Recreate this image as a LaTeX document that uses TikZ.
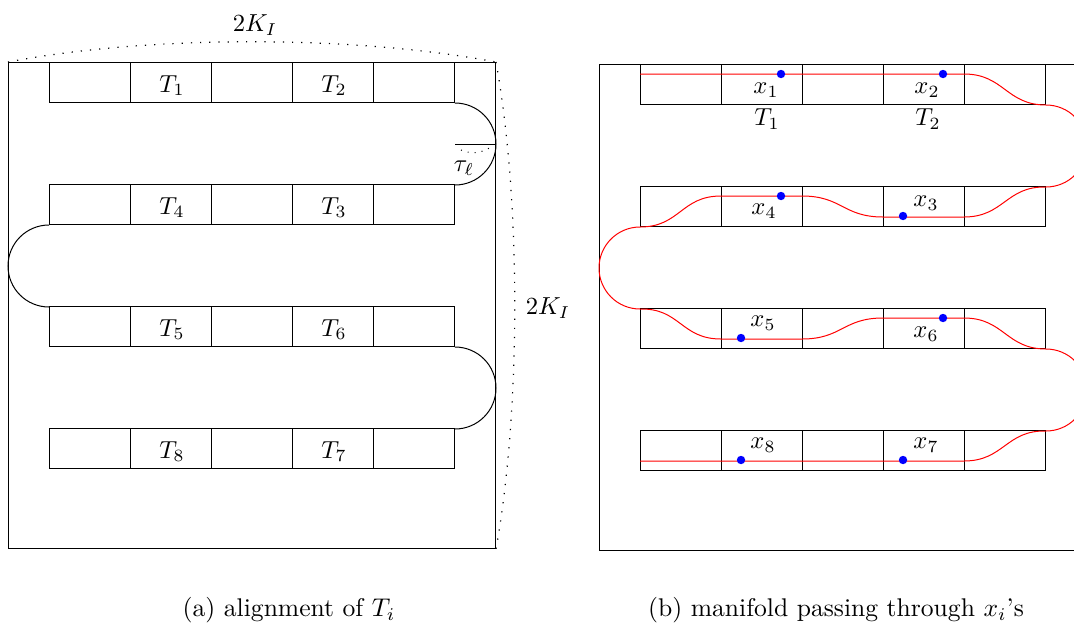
\documentclass[tikz,border=0pt]{standalone}
\usetikzlibrary{calc}
\begin{document}
\begin{tikzpicture}[x=0.5pt,y=-0.5pt,
  cell/.style={draw, minimum width=40.5pt, minimum height=20pt, inner sep=0pt, anchor=north west, line width=0.5pt},
  framebox/.style={draw, minimum width=243.5pt, minimum height=243pt, inner sep=0pt, anchor=north west, line width=0.5pt},
  lab/.style={inner sep=0pt, scale=1.23},
  dotm/.style={circle, fill=blue, inner sep=0pt, minimum size=4.2pt},
  redpath/.style={red, line width=0.5pt},
  dottedarc/.style={line width=0.6pt, dash pattern=on 0.6pt off 4pt},
  turn/.style={line width=0.5pt},
  caption/.style={inner sep=0pt, scale=1.28}]
\useasboundingbox (0,0) rectangle (1074,627);

% ---------------- left panel ----------------
\node[framebox] (LF) at (8,62) {};
\foreach \r/\y in {1/62,2/184,3/306,4/428}
  \foreach \c in {1,...,5}
    \node[cell] (a\r\c) at ({49+81*(\c-1)},\y) {};
\node[lab] (T1) at ($(a12)+(1,3)$) {$T_1$};
\node[lab] (T2) at ($(a14)+(1,3)$) {$T_2$};
\node[lab] (T4) at ($(a22)+(1,3)$) {$T_4$};
\node[lab] (T3) at ($(a24)+(1,3)$) {$T_3$};
\node[lab] (T5) at ($(a32)+(1,3)$) {$T_5$};
\node[lab] (T6) at ($(a34)+(1,3)$) {$T_6$};
\node[lab] (T8) at ($(a42)+(1,3)$) {$T_8$};
\node[lab] (T7) at ($(a44)+(1,3)$) {$T_7$};

\draw[turn] (a15.south east) arc[start angle=-90, end angle=90, radius=41];
\draw[turn] (a21.south west) arc[start angle=-90, end angle=-270, radius=41];
\draw[turn] (a35.south east) arc[start angle=-90, end angle=90, radius=41];

% angle tau_l
\coordinate (ctr) at ($(a15.south east)+(0,41)$);
\draw[turn] (ctr) -- (ctr -| LF.east);
\draw[dottedarc, line width=0.5pt, dash pattern=on 0.5pt off 3pt] (461,150) .. controls (470,154) and (482,154) .. (492,146);
\node[lab] (tau) at (464,168) {$\tau_\ell$};

% 2K_I arcs
\draw[dottedarc] (LF.north west) .. controls (150,35) and (353,35) .. (LF.north east);
\node[lab] (KI1) at (255,25) {$2K_I$};
\draw[dottedarc] (LF.north east) .. controls (521,200) and (521,410) .. (LF.south east);
\node[lab] (KI2) at (548,308) {$2K_I$};

\node[caption] (capa) at (289,610) {(a) alignment of $T_i$};

% ---------------- right panel ----------------
\node[framebox] (RF) at (599,64) {};
\foreach \r/\y in {1/64,2/186,3/308,4/430}
  \foreach \c in {1,...,5}
    \node[cell] (b\r\c) at ({640+81*(\c-1)},\y) {};

\draw[redpath]
  ($(b11.north west)+(0,10)$) -- ($(b15.north west)+(0,10)$)
  .. controls ($(b15.north west)+(40,10)$) and ($(b15.south east)+(-40,0)$) .. (b15.south east)
  arc[start angle=-90, end angle=90, radius=41]
  .. controls ($(b25.north east)+(-40,0)$) and ($(b25.south west)+(40,-10)$) .. ($(b25.south west)+(0,-10)$)
  -- ($(b24.south west)+(0,-10)$)
  .. controls ($(b24.south west)+(-40,-10)$) and ($(b23.north west)+(40,10)$) .. ($(b23.north west)+(0,10)$)
  -- ($(b22.north west)+(0,10)$)
  .. controls ($(b22.north west)+(-40,10)$) and ($(b21.south west)+(40,0)$) .. (b21.south west)
  arc[start angle=-90, end angle=-270, radius=41]
  .. controls ($(b31.north west)+(40,0)$) and ($(b32.south west)+(-40,-10)$) .. ($(b32.south west)+(0,-10)$)
  -- ($(b33.south west)+(0,-10)$)
  .. controls ($(b33.south west)+(40,-10)$) and ($(b34.north west)+(-40,10)$) .. ($(b34.north west)+(0,10)$)
  -- ($(b35.north west)+(0,10)$)
  .. controls ($(b35.north west)+(40,10)$) and ($(b35.south east)+(-40,0)$) .. (b35.south east)
  arc[start angle=-90, end angle=90, radius=41]
  .. controls ($(b45.north east)+(-40,0)$) and ($(b45.south west)+(40,-10)$) .. ($(b45.south west)+(0,-10)$)
  -- ($(b41.south west)+(0,-10)$);

\node[dotm] (x1) at (781,74) {};
\node[dotm] (x2) at (943,74) {};
\node[dotm] (x4) at (781,196) {};
\node[dotm] (x3) at (903,216) {};
\node[dotm] (x5) at (741,338) {};
\node[dotm] (x6) at (943,318) {};
\node[dotm] (x8) at (741,460) {};
\node[dotm] (x7) at (903,460) {};

\node[lab] (lx1) at (766,90) {$x_1$};
\node[lab] (lx2) at (927,90) {$x_2$};
\node[lab] (lT1) at (767,119) {$T_1$};
\node[lab] (lT2) at (928,119) {$T_2$};
\node[lab] (lx4) at (764,211) {$x_4$};
\node[lab] (lx3) at (926,203) {$x_3$};
\node[lab] (lx5) at (763,323) {$x_5$};
\node[lab] (lx6) at (926,334) {$x_6$};
\node[lab] (lx8) at (763,445) {$x_8$};
\node[lab] (lx7) at (926,445) {$x_7$};

\node[caption] (capb) at (836,610) {(b) manifold passing through $x_i$'s};
\end{tikzpicture}
\end{document}
